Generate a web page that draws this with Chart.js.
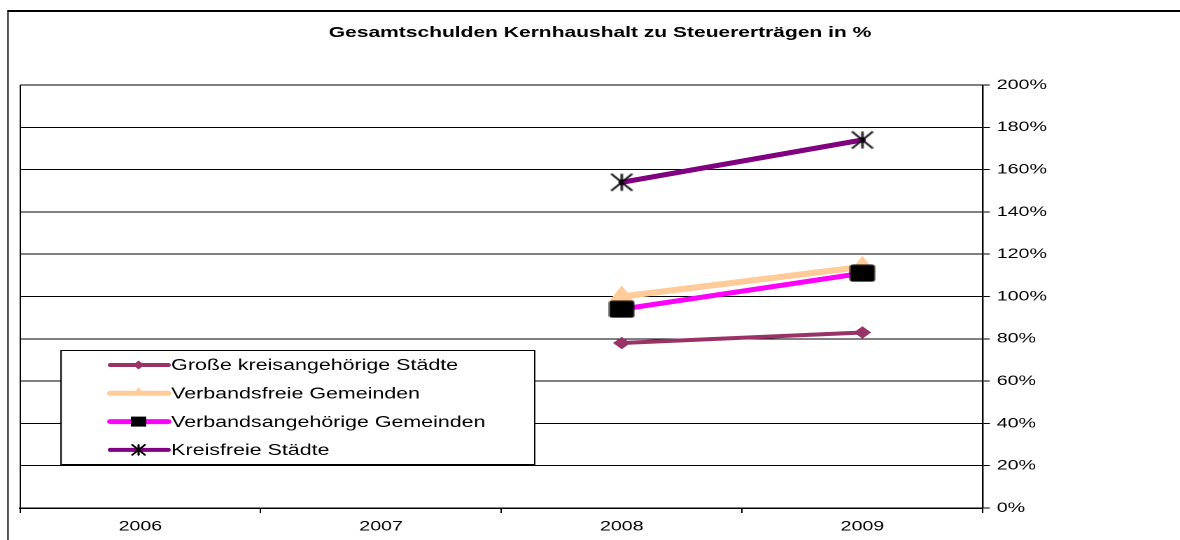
<!DOCTYPE html>
<html>
<head>
<meta charset="utf-8">
<script src="https://cdn.jsdelivr.net/npm/chart.js@4/dist/chart.umd.min.js"></script>
<style>
  html, body { margin: 0; padding: 0; background: #fff; overflow: hidden; }
  #wrap { width: 1180px; height: 540px; overflow: hidden; }
  /* Diagramm wird schmal gezeichnet und in die Breite gezogen */
  #myChart { transform: scaleX(1.39976); transform-origin: 0 0; }
</style>
</head>
<body>
<div id="wrap"><canvas id="myChart" width="843" height="540"></canvas></div>
<script>
var jahre = ['2006', '2007', '2008', '2009']; // Kategorien der x-Achse
var grosseKreisang = [null, null, 78, 83];   // Große kreisangehörige Städte
var verbandsfrei = [null, null, 100, 114];   // Verbandsfreie Gemeinden
var verbandsang = [null, null, 94, 111];     // Verbandsangehörige Gemeinden
var kreisfrei = [null, null, 154, 174];      // Kreisfreie Städte
var yMin = 0, yMax = 200, yStep = 20;        // Prozent-Achse rechts
var titel = 'Gesamtschulden Kernhaushalt zu Steuererträgen in %';

Chart.defaults.font.family = '"Liberation Sans", Arial, sans-serif';
Chart.defaults.color = '#000';

// Stern-Marker: X mit senkrechtem Strich
function sternZeichnen(c, x, y, w, h, lw) {
    c.save();
    c.strokeStyle = '#000';
    c.lineWidth = lw;
    c.beginPath();
    c.moveTo(x - w / 2, y - h / 2); c.lineTo(x + w / 2, y + h / 2);
    c.moveTo(x + w / 2, y - h / 2); c.lineTo(x - w / 2, y + h / 2);
    c.moveTo(x, y - h / 2); c.lineTo(x, y + h / 2);
    c.stroke();
    c.restore();
}
var stern = document.createElement('canvas');
stern.width = 18; stern.height = 20;
sternZeichnen(stern.getContext('2d'), 9, 10, 15, 17, 1.6);

// schwarzes Rechteck als Marker
var kasten = document.createElement('canvas');
kasten.width = 19; kasten.height = 18;
(function () {
    var k = kasten.getContext('2d');
    k.fillStyle = '#000';
    k.beginPath();
    k.roundRect(0.5, 0.5, 18, 17, 2);
    k.fill();
})();

var rahmen = {
    id: 'rahmen',
    beforeDraw: function (chart) {
        var c = chart.ctx;
        c.save();
        c.strokeStyle = '#000';
        c.lineWidth = 1;
        c.beginPath(); c.moveTo(5.7, 540); c.lineTo(5.7, 11); c.stroke();
        c.lineWidth = 2;
        c.beginPath(); c.moveTo(5.2, 11); c.lineTo(843, 11); c.stroke();
        c.restore();
    }
};

// Legende im Zeichenbereich unten links
var legendeImPlot = {
    id: 'legendeImPlot',
    afterDraw: function (chart) {
        var c = chart.ctx;
        var bx = 43.6, by = 350.5, bw = 338.4, bh = 114;
        c.save();
        c.fillStyle = '#fff';
        c.fillRect(bx, by, bw, bh);
        c.strokeStyle = '#000';
        c.lineWidth = 1;
        c.strokeRect(bx, by, bw, bh);
        chart.data.datasets.forEach(function (ds, i) {
            var y = 365 + i * 28.3;
            var mx = 99;
            c.strokeStyle = ds.borderColor;
            c.lineWidth = ds.legendWidth;
            c.lineCap = 'round';
            c.beginPath(); c.moveTo(79, y); c.lineTo(120, y); c.stroke();
            c.fillStyle = ds.pointBackgroundColor;
            if (ds.legendMarker === 'diamond') {
                c.beginPath();
                c.moveTo(mx, y - 4.5); c.lineTo(mx + 4, y); c.lineTo(mx, y + 4.5); c.lineTo(mx - 4, y);
                c.closePath(); c.fill();
            } else if (ds.legendMarker === 'triangle') {
                c.beginPath();
                c.moveTo(mx, y - 6); c.lineTo(mx + 4.5, y + 2); c.lineTo(mx - 4.5, y + 2);
                c.closePath(); c.fill();
            } else if (ds.legendMarker === 'square') {
                c.fillStyle = '#000';
                c.fillRect(mx - 5.5, y - 5, 11, 10);
            } else if (ds.legendMarker === 'star') {
                sternZeichnen(c, mx, y, 9, 10, 1.6);
            }
            c.fillStyle = '#000';
            c.font = '15.3px "Liberation Sans", Arial, sans-serif';
            c.textBaseline = 'middle';
            c.textAlign = 'left';
            c.fillText(ds.label, 122.3, y + 1);
        });
        c.restore();
    }
};

var ctx = document.getElementById('myChart');
var myChart = new Chart(ctx, {
    type: 'line',
    data: {
        labels: jahre,
        datasets: [{
            label: 'Große kreisangehörige Städte',
            data: grosseKreisang,
            borderColor: '#993366',
            borderWidth: 4,
            legendWidth: 4,
            legendMarker: 'diamond',
            pointStyle: 'rectRot',
            pointRadius: 5.5,
            pointBackgroundColor: '#993366',
            pointBorderColor: '#993366',
            pointBorderWidth: 1
        }, {
            label: 'Verbandsfreie Gemeinden',
            data: verbandsfrei,
            borderColor: '#FFCC99',
            borderWidth: 6,
            legendWidth: 5,
            legendMarker: 'triangle',
            pointStyle: 'triangle',
            pointRadius: 5,
            pointBackgroundColor: '#FFCC99',
            pointBorderColor: '#FFCC99',
            order: 1
        }, {
            label: 'Verbandsangehörige Gemeinden',
            data: verbandsang,
            borderColor: '#FF00FF',
            borderWidth: 5,
            legendWidth: 5,
            legendMarker: 'square',
            pointStyle: kasten,
            pointRadius: 9,
            pointBackgroundColor: '#000'
        }, {
            label: 'Kreisfreie Städte',
            data: kreisfrei,
            borderColor: '#800080',
            borderWidth: 5,
            legendWidth: 4,
            legendMarker: 'star',
            pointStyle: stern,
            pointRadius: 9,
            pointBackgroundColor: '#000'
        }]
    },
    options: {
        responsive: false,
        animation: false,
        devicePixelRatio: 2,
        layout: { padding: { left: 14.3, top: 0, right: 0, bottom: 0 } },
        elements: { line: { tension: 0, borderCapStyle: 'round' } },
        plugins: {
            legend: { display: false },
            tooltip: { enabled: false },
            title: {
                display: true,
                text: titel,
                color: '#000',
                font: { size: 15, weight: 'bold' },
                padding: { top: 24, bottom: 43 }
            }
        },
        scales: {
            x: {
                offset: true,
                grid: {
                    offset: true,
                    color: function (c) { return c.index === 0 ? '#000' : 'rgba(0,0,0,0)'; },
                    tickColor: '#000',
                    tickLength: 5,
                    lineWidth: 1
                },
                border: { color: '#000', width: 1.5 },
                ticks: { padding: 5, font: { size: 14 }, color: '#000', maxRotation: 0 },
                afterFit: function (s) { s.height = 32; }
            },
            y: {
                position: 'right',
                min: yMin,
                max: yMax,
                ticks: {
                    stepSize: yStep,
                    padding: 5,
                    font: { size: 14 },
                    color: '#000',
                    callback: function (v) { return v + '%'; }
                },
                grid: { color: '#000', lineWidth: 1, tickLength: 5, tickColor: '#000' },
                border: { color: '#000', width: 1.2 },
                afterFit: function (s) { s.width = 140.9; }
            }
        }
    },
    plugins: [rahmen, legendeImPlot]
});
</script>
</body>
</html>
